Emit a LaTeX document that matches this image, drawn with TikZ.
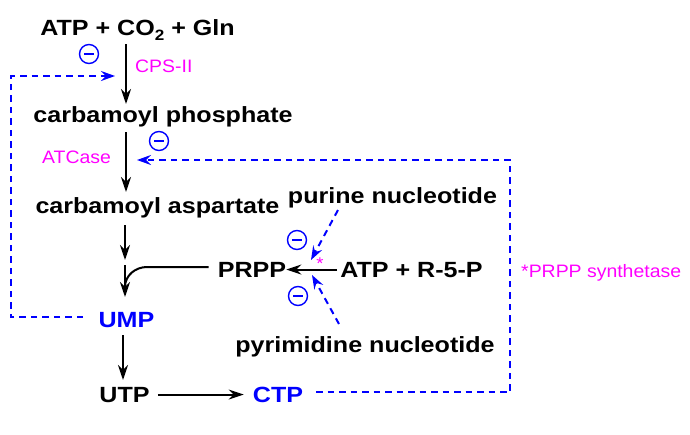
\documentclass[tikz,border=0pt]{standalone}
\usepackage{fontspec}
\setmainfont{Liberation Sans}
\newfontfamily\bfam[FakeStretch=1.14]{Liberation Sans Bold}
\newfontfamily\lfam[FakeStretch=1.08]{Liberation Sans}
\usetikzlibrary{arrows.meta}
\definecolor{mag}{RGB}{255,0,255}
\definecolor{blu}{RGB}{0,0,255}
\begin{document}
\begin{tikzpicture}[x=1pt,y=-1pt,
  txt/.style={font=\bfam\fontsize{22}{26}\selectfont, inner sep=0pt, anchor=base},
  lab/.style={font=\lfam\fontsize{18}{20}\selectfont, text=mag, inner sep=0pt, anchor=base west},
  arr/.style={-{Stealth[length=15pt,width=10pt,inset=5pt]}, line width=2pt, black},
  inhline/.style={blu, line width=2pt, dash pattern=on 6.5pt off 5pt},
  inharr/.style={inhline, -{Stealth[length=14pt,width=10pt,inset=5pt]}},
  inh/.style={circle, draw=blu, line width=1.4pt, minimum size=19pt, inner sep=0pt,
    path picture={\draw[blu, line width=1.6pt] ([xshift=-5pt]path picture bounding box.center) -- ([xshift=5pt]path picture bounding box.center);}}
]
\useasboundingbox (0,0) rectangle (690,434);
% main texts
\node[txt] (n1) at (137.5,35) {ATP + CO\raisebox{-5pt}{\fontsize{15}{15}\selectfont 2} + Gln};
\node[txt] (n2) at (163,122) {carbamoyl phosphate};
\node[txt] (n3) at (157.5,213) {carbamoyl aspartate};
\node[txt] (pur) at (392.5,203) {purine nucleotide};
\node[txt] (prpp) at (252,277) {PRPP};
\node[txt] (atp) at (411.5,277) {ATP + R-5-P};
\node[txt] (pyr) at (365,352) {pyrimidine nucleotide};
\node[txt, text=blu] (ump) at (126.5,327) {UMP};
\node[txt] (utp) at (124.5,402) {UTP};
\node[txt, text=blu] (ctp) at (278,402) {CTP};
% labels
\node[lab] (cps) at (135,72.7) {CPS-II};
\node[lab] (atc) at (42,163) {ATCase};
\node[lab] (syn) at (521,277) {*PRPP synthetase};
\node[font=\lfam\fontsize{17}{17}\selectfont, text=mag, inner sep=0pt] (star) at (320,264) {*};
% inhibition circles
\node[inh] (c1) at (89,54) {};
\node[inh] (c2) at (159,141) {};
\node[inh] (c3) at (297,240) {};
\node[inh] (c4) at (298,296) {};
% coordinates
\coordinate (a1s) at (126,44);  \coordinate (a1e) at (126,104);
\coordinate (a2s) at (126,132); \coordinate (a2e) at (126,192);
\coordinate (a3s) at (125,225); \coordinate (a3e) at (125,260);
\coordinate (a4s) at (125,265); \coordinate (a4e) at (125,297);
\coordinate (cv1) at (147,267); \coordinate (cv2) at (125,287);
\coordinate (a5s) at (123,335); \coordinate (a5e) at (123,380);
\coordinate (d1a) at (83,317); \coordinate (d1b) at (11,317);
\coordinate (d1c) at (11,76); \coordinate (d1d) at (115,76);
\coordinate (d2a) at (316,392); \coordinate (d2b) at (510,392);
\coordinate (d2c) at (510,160); \coordinate (d2d) at (137,160);
\coordinate (d3a) at (338,210); \coordinate (d3b) at (311,260);
\coordinate (d4a) at (339,324); \coordinate (d4b) at (312,275);
% solid arrows
\draw[arr] (a1s) -- (a1e);
\draw[arr] (a2s) -- (a2e);
\draw[arr] (a3s) -- (a3e);
\draw[arr] (a4s) -- (a4e);
\draw[line width=2pt] ([xshift=-9pt]prpp.west |- cv1) -- (cv1) to[out=180,in=90] (cv2);
\draw[arr] (a5s) -- (a5e);
\draw[arr, shorten <=8pt, shorten >=9pt] (utp.east) -- (utp.east -| ctp.west);
\draw[arr, shorten <=3pt] (atp.west) -- (atp.west -| prpp.east);
% dashed feedback
\draw[inharr] (d1a) -- (d1b) -- (d1c) -- (d1d);
\draw[inharr] (d2a) -- (d2b) -- (d2c) -- (d2d);
\draw[inharr] (d3a) -- (d3b);
\draw[inharr] (d4a) -- (d4b);
\end{tikzpicture}
\end{document}
